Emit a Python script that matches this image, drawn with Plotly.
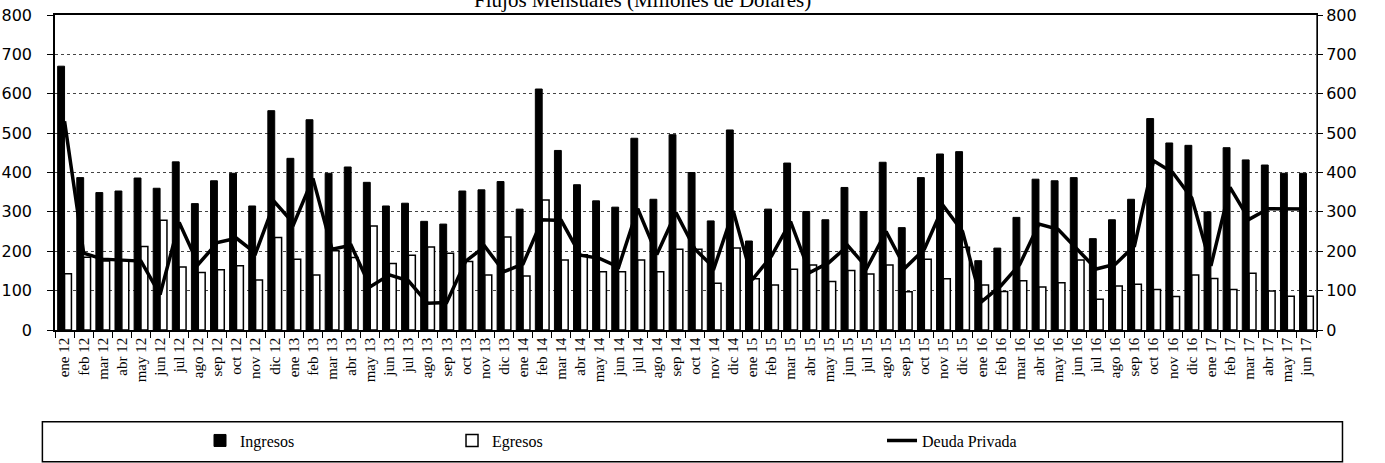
import plotly.graph_objects as go

months = ["ene", "feb", "mar", "abr", "may", "jun", "jul", "ago", "sep", "oct", "nov", "dic"]
years = ["12", "13", "14", "15", "16", "17"]
categories = [f"{m} {y}" for y in years for m in months][:66]

ingresos = [
    670, 387, 349, 353, 386, 360, 427, 321, 379, 398, 315, 557,
    436, 534, 398, 414, 375, 315, 322, 276, 269, 353, 356, 377,
    307, 612, 456, 369, 328, 312, 487, 332, 496, 400, 277, 508,
    226, 307, 424, 301, 280, 362, 301, 426, 260, 387, 447, 453,
    176, 208, 286, 383, 379, 387, 232, 280, 332, 537, 475, 469,
    300, 463, 432, 419, 398, 398,
]
egresos = [
    143, 185, 175, 178, 212, 279, 160, 146, 153, 163, 127, 235,
    180, 140, 201, 184, 264, 169, 190, 211, 195, 174, 140, 236,
    137, 330, 178, 191, 148, 148, 178, 148, 205, 205, 119, 208,
    130, 114, 154, 165, 123, 151, 142, 165, 97, 180, 130, 210,
    114, 98, 125, 109, 120, 178, 78, 112, 116, 103, 85, 140,
    131, 103, 144, 99, 86, 86,
]
deuda_privada = [
    530, 195, 180, 178, 175, 90, 273, 167, 222, 233, 195, 325,
    270, 385, 205, 215, 110, 140, 125, 68, 70, 175, 212, 148,
    168, 280, 278, 190, 182, 160, 308, 192, 298, 205, 158, 302,
    128, 188, 275, 146, 171, 214, 158, 250, 158, 205, 315, 250,
    72, 112, 167, 269, 256, 205, 155, 167, 214, 430, 400, 335,
    163, 362, 281, 308, 307, 307,
]
y_ticks = [0, 100, 200, 300, 400, 500, 600, 700, 800]

serif = "Liberation Serif, Times New Roman, serif"
sans = "DejaVu Sans, Verdana, sans-serif"

fig = go.Figure()
fig.add_trace(go.Bar(
    x=categories, y=ingresos, name="Ingresos",
    marker=dict(color="black", line=dict(color="black", width=1)),
    legendwidth=207,
))
fig.add_trace(go.Bar(
    x=categories, y=egresos, name="Egresos",
    marker=dict(color="white", line=dict(color="black", width=1.5)),
    legendwidth=385,
))
fig.add_trace(go.Scatter(
    x=categories, y=deuda_privada, name="Deuda Privada", mode="lines",
    line=dict(color="black", width=3.5), yaxis="y2",
))

fig.update_layout(
    width=1385, height=463, autosize=False,
    margin=dict(l=55, r=69, t=15, b=133, autoexpand=False),
    paper_bgcolor="white", plot_bgcolor="white",
    barmode="group", bargap=0.28, bargroupgap=0.0,
    title=dict(
        text="Flujos Mensuales (Millones de Dolares)",
        font=dict(family=serif, size=21, color="black"),
        x=0.464, xref="container", xanchor="center",
        y=1.0, yref="container", yanchor="middle", automargin=False,
    ),
    xaxis=dict(
        type="category", tickangle=-90, automargin=False,
        tickfont=dict(family=serif, size=15, color="black"),
        showline=True, linecolor="black", linewidth=1.5, mirror=True,
        ticks="outside", tickson="boundaries", ticklen=6, tickcolor="black",
        showgrid=False,
    ),
    yaxis=dict(
        range=[0, 800], tickvals=y_ticks, automargin=False,
        tickfont=dict(family=sans, size=16, color="black"),
        showline=True, linecolor="black", linewidth=1.5, mirror=True,
        ticks="outside", ticklen=6, tickcolor="black", ticklabelstandoff=12,
        showgrid=True, gridcolor="#444444", gridwidth=1, griddash="dot",
        zeroline=False,
    ),
    yaxis2=dict(
        range=[0, 800], tickvals=y_ticks, overlaying="y", side="right",
        automargin=False,
        tickfont=dict(family=sans, size=16, color="black"),
        ticks="outside", ticklen=6, tickcolor="black",
        showline=True, linecolor="#555555", linewidth=1,
        showgrid=False, zeroline=False,
    ),
    showlegend=True,
    legend=dict(
        orientation="h", x=0.115, xanchor="left", y=-0.351, yanchor="middle",
        yref="paper",
        font=dict(family=serif, size=16, color="black"),
        bgcolor="rgba(0,0,0,0)", borderwidth=0,
        traceorder="normal",
    ),
    shapes=[dict(
        type="rect", xref="paper", yref="paper",
        x0=-0.010, x1=1.021, y0=-0.418, y1=-0.291,
        line=dict(color="black", width=1.5), fillcolor="rgba(0,0,0,0)",
    )],
)

fig.write_html(
    "out.html",
    config={"displayModeBar": False},
    post_script="document.body.style.margin='0';",
)
